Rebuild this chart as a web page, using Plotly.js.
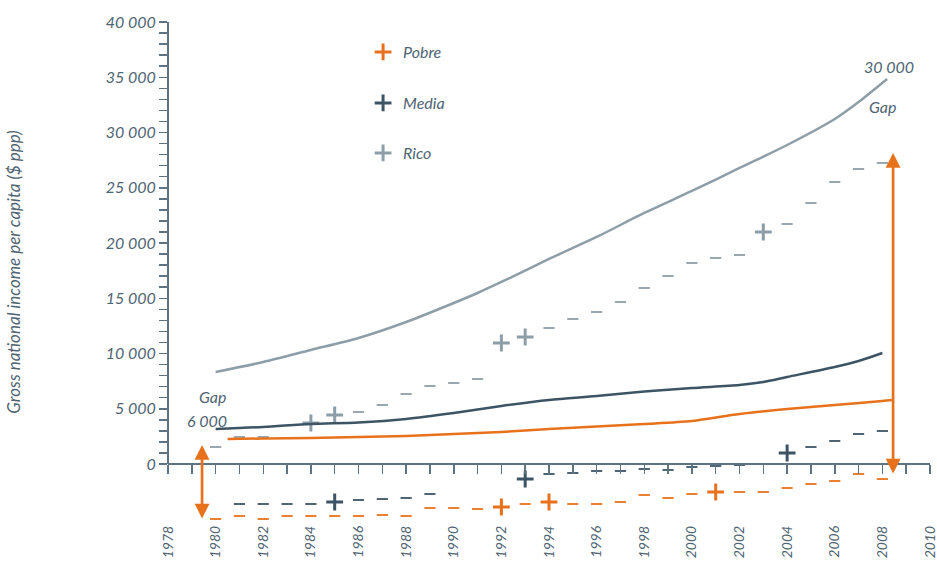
<!DOCTYPE html>
<html>
<head>
<meta charset="utf-8">
<script src="https://cdn.plot.ly/plotly-3.0.1.min.js"></script>
<style>html,body{margin:0;padding:0;background:#fff;}#chart{width:937px;height:561px;}</style>
</head>
<body>
<div id="chart"></div>
<script>
// ---- Data ----
const ricoLineYears = [1980,1982,1984,1986,1988,1990,1991,1992,1994,1996,1998,2000,2002,2004,2006,2007,2008.2];
const ricoLineVals  = [8326,9231,10317,11403,12851,14570,15476,16471,18553,20544,22716,24707,26788,28870,31223,32761,34843];

const mediaLineYears = [1980,1982,1984,1986,1988,1990,1992,1994,1996,1998,2000,2002,2003,2004,2006,2007,2008];
const mediaLineVals  = [3168,3349,3620,3756,4073,4616,5249,5792,6154,6561,6878,7150,7421,7874,8779,9322,10046];

const pobreLineYears = [1980.5,1982,1984,1986,1988,1990,1992,1994,1996,1998,2000,2002,2004,2006,2008,2008.4];
const pobreLineVals  = [2263,2308,2353,2444,2534,2715,2896,3168,3394,3620,3892,4525,4978,5340,5702,5792];

const ricoMarkYears = [1980,1981,1982,1984,1985,1986,1987,1988,1989,1990,1991,1992,1993,1994,1995,1996,1997,1998,1999,2000,2001,2002,2003,2004,2005,2006,2007,2008];
const ricoMarkVals  = [1539,2444,2444,3711,4435,4706,5340,6335,7059,7331,7693,10951,11494,12308,13123,13756,14661,15928,17014,18191,18643,18915,20996,21720,23621,25521,26698,27241];
const ricoSigns     = ['-','-','-','+','+','-','-','-','-','-','-','+','+','-','-','-','-','-','-','-','-','-','+','-','-','-','-','-'];

const mediaMarkYears = [1981,1982,1983,1984,1985,1986,1987,1988,1989,1993,1994,1995,1996,1997,1998,1999,2000,2001,2002,2004,2005,2006,2007,2008];
const mediaMarkVals  = [-3620,-3620,-3620,-3620,-3439,-3258,-3168,-3077,-2715,-1358,-905,-815,-634,-634,-453,-543,-272,-181,-91,996,1539,2082,2715,2987];
const mediaSigns     = ['-','-','-','-','+','-','-','-','-','+','-','-','-','-','-','-','-','-','-','+','-','-','-','-'];

const pobreMarkYears = [1980,1981,1982,1983,1984,1985,1986,1987,1988,1989,1990,1991,1992,1993,1994,1995,1996,1997,1998,1999,2000,2001,2002,2003,2004,2005,2006,2007,2008];
const pobreMarkVals  = [-4978,-4706,-4978,-4706,-4706,-4706,-4706,-4616,-4706,-3982,-3982,-4073,-3892,-3620,-3439,-3620,-3620,-3439,-2806,-3077,-2715,-2534,-2534,-2534,-2172,-1810,-1539,-905,-1358];
const pobreSigns     = ['-','-','-','-','-','-','-','-','-','-','-','-','+','-','+','-','-','-','-','-','-','+','-','-','-','-','-','-','-'];

const yTickVals  = [0,5000,10000,15000,20000,25000,30000,35000,40000];
const yTickText  = ['0','5 000','10 000','15 000','20 000','25 000','30 000','35 000','40 000'];
const xTickVals  = [1978,1980,1982,1984,1986,1988,1990,1992,1994,1996,1998,2000,2002,2004,2006,2008,2010];
const xTickText  = ['1978','1980','1982','1984','1986','1988','1990','1992','1994','1996','1998','2000','2002','2004','2006','2008','2010'];

// gap arrows: [year, top value, bottom value]
const gapStart = [1979.43, 1720, -5068];
const gapEnd   = [2008.45, 28146, -995];

// ---- Style ----
const ORANGE = '#e8721c', DARK = '#3d5465', GRAY = '#8e9ea8';
const TEXT = '#4f6473', AXIS = '#5f7482';
const FONT = 'Lato, "Open Sans", sans-serif';
const f = (size, color) => ({family: FONT, size: size, color: color || TEXT, style: 'italic'});

function pick(arr, signs, s) { return arr.filter((_, i) => signs[i] === s); }

function markerTraces(name, years, vals, signs, color, legendId) {
  return [
    {type:'scatter', mode:'markers', name:name, legend:legendId, showlegend:true,
     x: pick(years, signs, '+'), y: pick(vals, signs, '+'), cliponaxis:false, hoverinfo:'skip',
     marker:{symbol:'cross-thin', size:12, color:color, line:{color:color, width:3}}},
    {type:'scatter', mode:'markers', name:name + ' −', showlegend:false,
     x: pick(years, signs, '-'), y: pick(vals, signs, '-'), cliponaxis:false, hoverinfo:'skip',
     marker:{symbol:'line-ew', size:8, color:color, line:{color:color, width:1.8}}}
  ];
}

function lineTrace(name, years, vals, color) {
  return {type:'scatter', mode:'lines', name:name, showlegend:false, xaxis:'x2',
          x:years, y:vals, line:{color:color, width:2.5, shape:'spline', smoothing:0.8}, hoverinfo:'skip'};
}

const data = [
  lineTrace('Rico', ricoLineYears, ricoLineVals, GRAY),
  lineTrace('Media', mediaLineYears, mediaLineVals, DARK),
  lineTrace('Pobre', pobreLineYears, pobreLineVals, ORANGE),
  ...markerTraces('Pobre', pobreMarkYears, pobreMarkVals, pobreSigns, ORANGE, 'legend'),
  ...markerTraces('Media', mediaMarkYears, mediaMarkVals, mediaSigns, DARK, 'legend2'),
  ...markerTraces('Rico', ricoMarkYears, ricoMarkVals, ricoSigns, GRAY, 'legend3')
];

const minorVals = [];
for (let v = 1000; v < 40000; v += 1000) if (v % 5000 !== 0) minorVals.push(v);

const YMIN = -5249, YMAX = 40000;
const zeroPos = (0 - YMIN) / (YMAX - YMIN);

function arrow(g) {
  return {x:g[0], y:g[1], ax:g[0], ay:g[2], xref:'x', yref:'y', axref:'x', ayref:'y',
          text:'', showarrow:true, arrowside:'end+start', arrowhead:2, startarrowhead:2,
          arrowsize:1.1, startarrowsize:1.1, arrowwidth:2.7, arrowcolor:ORANGE, standoff:0, startstandoff:0};
}

const legendBase = {bgcolor:'rgba(0,0,0,0)', font:f(16), orientation:'v', xanchor:'left', yanchor:'top', itemclick:false};

const layout = {
  width:937, height:561,
  margin:{l:168, r:7, t:22, b:39},
  paper_bgcolor:'#fff', plot_bgcolor:'#fff',
  font:{family:FONT, color:TEXT},
  xaxis:{range:[1978,2010], tickmode:'array', tickvals:xTickVals, ticktext:xTickText, tickangle:-90,
         ticks:'', showline:false, showgrid:false, zeroline:false, tickfont:f(14), ticklabeloverflow:'allow'},
  xaxis2:{range:[1978,2010], overlaying:'x', anchor:'free', position:zeroPos, side:'bottom',
          showline:true, linecolor:AXIS, linewidth:2, ticks:'outside', ticklen:9, tickwidth:1.5, tickcolor:AXIS,
          tickmode:'linear', tick0:1978, dtick:1, showticklabels:false, showgrid:false, zeroline:false},
  yaxis:{range:[YMIN, YMAX], tickmode:'array', tickvals:yTickVals, ticktext:yTickText,
         ticks:'outside', ticklen:8, tickwidth:1.5, tickcolor:AXIS, showline:false, showgrid:false, zeroline:false,
         tickfont:f(16),
         minor:{tickmode:'array', tickvals:minorVals, ticks:'outside', ticklen:8, tickwidth:1.5, tickcolor:AXIS, showgrid:false},
         title:{text:'Gross national income per capita ($ ppp)', font:f(17), standoff:80}},
  shapes:[{type:'line', xref:'paper', x0:0, x1:0, yref:'y', y0:0, y1:YMAX, line:{color:AXIS, width:2}}],
  legend: Object.assign({}, legendBase, {x:0.256, y:0.974}),
  legend2: Object.assign({}, legendBase, {x:0.256, y:0.872}),
  legend3: Object.assign({}, legendBase, {x:0.256, y:0.772}),
  annotations:[
    arrow(gapStart), arrow(gapEnd),
    {x:1979.85, y:6154, xref:'x', yref:'y', text:'Gap', showarrow:false, font:f(16)},
    {x:1979.64, y:3982, xref:'x', yref:'y', text:'6 000', showarrow:false, font:f(16)},
    {x:2008.28, y:35929, xref:'x', yref:'y', text:'30 000', showarrow:false, font:f(16)},
    {x:2007.99, y:32309, xref:'x', yref:'y', text:'Gap', showarrow:false, font:f(16)}
  ]
};

Plotly.newPlot('chart', data, layout, {staticPlot:true, displayModeBar:false});
</script>
</body>
</html>
